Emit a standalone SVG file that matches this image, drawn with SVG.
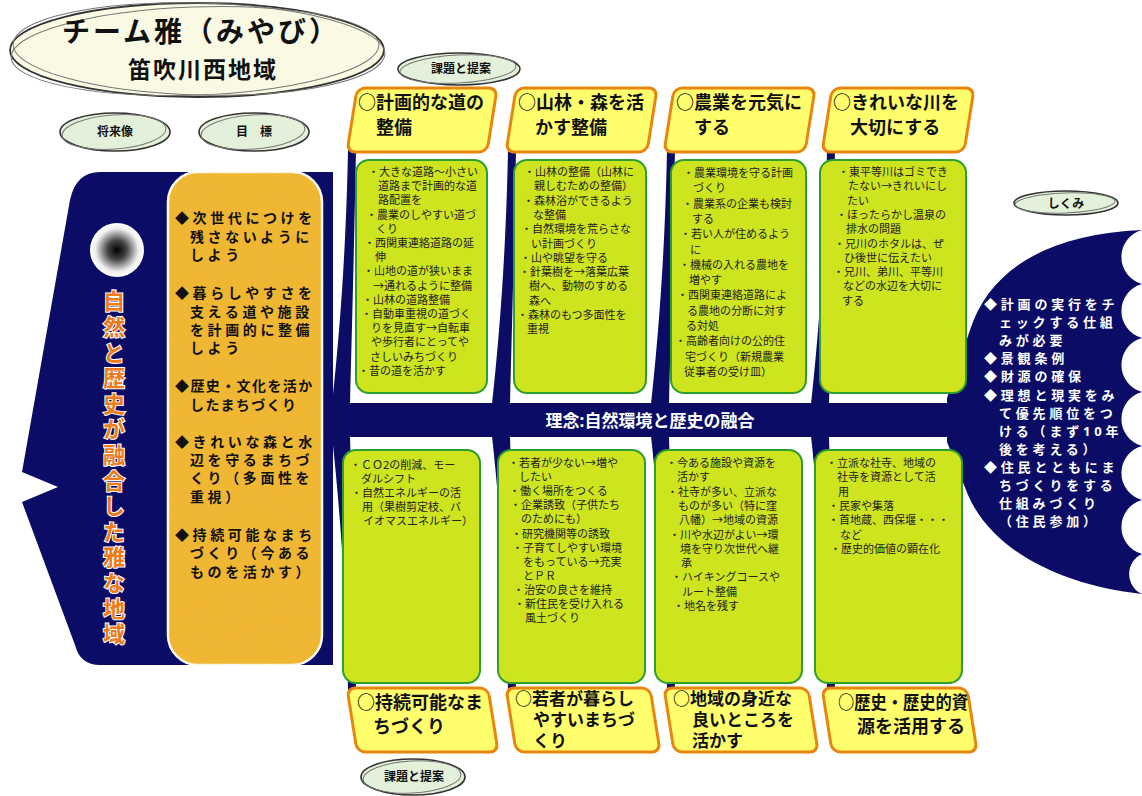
<svg xmlns="http://www.w3.org/2000/svg" width="1142" height="796" viewBox="0 0 1142 796">
<style>
.navy{fill:#0B0C66}
.hdr{fill:#FFFF6E;stroke:#E8850F;stroke-width:3}
.gbox{fill:#CDE41E;stroke:#2E9E2E;stroke-width:2}
.f{font-family:"Noto Sans","Noto Sans CJK JP",sans-serif}
.ht{font-size:18px;font-weight:700;fill:#111}
.ht3{font-size:17px;font-weight:700;fill:#111}
.gt{font-size:11px;fill:#222}
.lt{font-size:14px;font-weight:700;fill:#111;letter-spacing:3.6px}
.wt{font-size:13px;font-weight:700;fill:#fff;letter-spacing:3.8px}
.ell{fill:#E4F1DA;stroke:#333;stroke-width:1.6}
.ell2{fill:none;stroke:#777;stroke-width:1}
.et{font-size:12px;font-weight:700;fill:#111;text-anchor:middle}
</style>
<defs>
<radialGradient id="eye" cx="0.5" cy="0.5" r="0.5">
<stop offset="0" stop-color="#000"/>
<stop offset="0.35" stop-color="#444"/>
<stop offset="0.8" stop-color="#eee"/>
<stop offset="1" stop-color="#fff"/>
</radialGradient>
<filter id="grain" x="0" y="0" width="100%" height="100%">
<feTurbulence type="fractalNoise" baseFrequency="0.9" numOctaves="2" seed="3"/>
<feColorMatrix type="matrix" values="0 0 0 0 0.75  0 0 0 0 0.5  0 0 0 0 0.05  0 0 0 -1.4 1.0"/>
<feComposite in2="SourceGraphic" operator="in"/>
</filter>
</defs>
<rect width="1142" height="796" fill="#fff"/>

<!-- fish body -->
<g id="body">
<path class="navy" d="M100,172 L333,172 L333,665 L100,665 Q80,665 75,645 L22,502 L58,487 L22,472 L70,200 Q76,172 100,172 Z"/>
<rect class="navy" x="320" y="403" width="632" height="34"/>
<path class="navy" d="M1142,230 C1050,234 990,268 970,330 L947,398 L947,442 L968,495 C992,550 1060,585 1142,594 A22 22 0 0 1 1142,554 A28 28 0 0 1 1142,500 A28 28 0 0 1 1142,446 A28 28 0 0 1 1142,392 A28 28 0 0 1 1142,338 A28 28 0 0 1 1142,284 A28 28 0 0 1 1142,230 Z"/>
<circle cx="117" cy="250" r="27" fill="url(#eye)"/>
</g>

<g id="connectors">
<path class="navy" d="M348,150 L356,150 C354,250 352,330 350,404 L332,404 C340,330 346,250 348,150 Z"/>
<path class="navy" d="M508,150 L516,150 C514,250 512,330 510,404 L492,404 C500,330 506,250 508,150 Z"/>
<path class="navy" d="M667,150 L675,150 C673,250 671,330 669,404 L651,404 C659,330 665,250 667,150 Z"/>
<path class="navy" d="M827,150 L835,150 C833,250 831,330 829,404 L811,404 C819,330 825,250 827,150 Z"/>
<path class="navy" d="M332,436 L350,436 C352,510 354,590 356,690 L348,690 C346,590 340,510 332,436 Z"/>
<path class="navy" d="M492,436 L510,436 C512,510 514,590 516,690 L508,690 C506,590 500,510 492,436 Z"/>
<path class="navy" d="M651,436 L669,436 C671,510 673,590 675,690 L667,690 C665,590 659,510 651,436 Z"/>
<path class="navy" d="M811,436 L829,436 C831,510 833,590 835,690 L827,690 C825,590 819,510 811,436 Z"/>
</g>

<g id="spine-label">
<text class="f" x="650" y="427" font-size="17" font-weight="700" fill="#fff" text-anchor="middle">理念:自然環境と歴史の融合</text>
</g>

<!-- title -->
<g id="title">
<ellipse cx="197" cy="50" rx="187" ry="47" fill="#FAFAE4" stroke="#333" stroke-width="1.8"/>
<ellipse cx="195" cy="51" rx="184" ry="44" transform="rotate(-2 195 51)" class="ell2"/>
<ellipse cx="199" cy="49" rx="186" ry="46" transform="rotate(1.5 199 49)" class="ell2"/>
<text class="f" x="201" y="42" font-size="28" font-weight="700" fill="#111" text-anchor="middle" letter-spacing="3">チーム雅（みやび）</text>
<text class="f" x="203" y="78" font-size="23" font-weight="700" fill="#111" text-anchor="middle" letter-spacing="2">笛吹川西地域</text>
</g>

<g id="label-kadai-top">
<ellipse class="ell" cx="459" cy="69" rx="61" ry="16"/>
<ellipse class="ell2" cx="458" cy="69" rx="58" ry="14" transform="rotate(-3 458 69)"/>
<text class="f et" x="461" y="73">課題と提案</text>
</g>
<g id="label-shoraizo">
<ellipse class="ell" cx="115" cy="132" rx="55" ry="19"/>
<ellipse class="ell2" cx="114" cy="132" rx="52" ry="17" transform="rotate(-4 114 132)"/>
<text class="f et" x="115" y="136">将来像</text>
</g>
<g id="label-mokuhyo">
<ellipse class="ell" cx="254" cy="132" rx="55" ry="19"/>
<ellipse class="ell2" cx="253" cy="132" rx="52" ry="17" transform="rotate(-4 253 132)"/>
<text class="f et" x="254" y="136">目　標</text>
</g>
<g id="label-shikumi">
<ellipse class="ell" cx="1066" cy="203" rx="52" ry="12"/>
<ellipse class="ell2" cx="1065" cy="203" rx="50" ry="10" transform="rotate(-2 1065 203)"/>
<text class="f et" x="1066" y="208" font-size="13">しくみ</text>
</g>
<g id="label-kadai-bottom">
<ellipse class="ell" cx="413" cy="777" rx="52" ry="18"/>
<ellipse class="ell2" cx="412" cy="777" rx="49" ry="16" transform="rotate(-3 412 777)"/>
<text class="f et" x="414" y="781">課題と提案</text>
</g>

<!-- vision -->
<g id="vision">
<text class="f" x="113" y="290" style="writing-mode:vertical-rl" font-size="22" letter-spacing="3.6" font-weight="700" fill="#EE7A1A" stroke="#fff" stroke-width="2" paint-order="stroke">自然と歴史が融合した雅な地域</text>
</g>

<!-- goals -->
<g id="goals">
<rect x="168" y="172" width="154" height="493" rx="30" fill="#F2B631" stroke="#fff" stroke-width="2.5"/>
<rect x="168" y="172" width="154" height="493" rx="30" fill="#F2B631" filter="url(#grain)" opacity="0.5"/>
<text class="f lt">
<tspan x="175" y="223">◆次世代につけを</tspan>
<tspan x="190" y="242">残さないように</tspan>
<tspan x="190" y="260">しよう</tspan>
<tspan x="175" y="298">◆暮らしやすさを</tspan>
<tspan x="190" y="317">支える道や施設</tspan>
<tspan x="190" y="335">を計画的に整備</tspan>
<tspan x="190" y="353">しよう</tspan>
<tspan x="175" y="391" letter-spacing="1.4">◆歴史・文化を活か</tspan>
<tspan x="190" y="410" letter-spacing="1.4">したまちづくり</tspan>
<tspan x="175" y="447">◆きれいな森と水</tspan>
<tspan x="190" y="465">辺を守るまちづ</tspan>
<tspan x="190" y="483">くり（多面性を</tspan>
<tspan x="190" y="502">重視）</tspan>
<tspan x="175" y="540">◆持続可能なまち</tspan>
<tspan x="190" y="558">づくり（今ある</tspan>
<tspan x="190" y="577">ものを活かす）</tspan>
</text>
</g>

<!-- top headers -->
<g id="h1"><rect class="hdr" x="0" y="-64" width="140" height="64" rx="8" transform="translate(347,152) skewX(-9)"/>
<text class="f ht"><tspan x="358" y="109">○計画的な道の</tspan><tspan x="376" y="134">整備</tspan></text></g>
<g id="h2"><rect class="hdr" x="0" y="-64" width="141" height="64" rx="8" transform="translate(506,152) skewX(-9)"/>
<text class="f ht"><tspan x="518" y="109">○山林・森を活</tspan><tspan x="535" y="134">かす整備</tspan></text></g>
<g id="h3"><rect class="hdr" x="0" y="-64" width="141" height="64" rx="8" transform="translate(664,152) skewX(-9)"/>
<text class="f ht"><tspan x="676" y="109">○農業を元気に</tspan><tspan x="694" y="134">する</tspan></text></g>
<g id="h4"><rect class="hdr" x="0" y="-64" width="142" height="64" rx="8" transform="translate(822,152) skewX(-9)"/>
<text class="f ht"><tspan x="833" y="109">○きれいな川を</tspan><tspan x="850" y="134">大切にする</tspan></text></g>

<!-- bottom headers -->
<g id="b1"><rect class="hdr" x="0" y="0" width="141" height="64" rx="8" transform="translate(347,688) skewX(9)"/>
<text class="f ht"><tspan x="357" y="709">○持続可能なま</tspan><tspan x="373" y="733">ちづくり</tspan></text></g>
<g id="b2"><rect class="hdr" x="0" y="0" width="144" height="64" rx="8" transform="translate(506,688) skewX(9)"/>
<text class="f ht3"><tspan x="515" y="705">○若者が暮らし</tspan><tspan x="533" y="726">やすいまちづ</tspan><tspan x="533" y="747">くり</tspan></text></g>
<g id="b3"><rect class="hdr" x="0" y="0" width="144" height="64" rx="8" transform="translate(664,688) skewX(9)"/>
<text class="f ht3"><tspan x="673" y="705">○地域の身近な</tspan><tspan x="692" y="726">良いところを</tspan><tspan x="692" y="747">活かす</tspan></text></g>
<g id="b4"><rect class="hdr" x="0" y="0" width="145" height="64" rx="8" transform="translate(822,688) skewX(9)"/>
<text class="f ht"><tspan x="838" y="709" textLength="130" lengthAdjust="spacingAndGlyphs">○歴史・歴史的資</tspan><tspan x="857" y="733">源を活用する</tspan></text></g>

<!-- top green boxes -->
<g id="g1"><rect class="gbox" x="356" y="160" width="131" height="233" rx="13"/>
<text class="f gt">
<tspan x="368" y="176">・大きな道路〜小さい</tspan>
<tspan x="378" y="190.2">道路まで計画的な道</tspan>
<tspan x="378" y="204.4">路配置を</tspan>
<tspan x="366" y="218.6">・農業のしやすい道づ</tspan>
<tspan x="376" y="232.8">くり</tspan>
<tspan x="364" y="247">・西関東連絡道路の延</tspan>
<tspan x="375" y="261.2">伸</tspan>
<tspan x="363" y="275.4">・山地の道が狭いまま</tspan>
<tspan x="373" y="289.6">→通れるように整備</tspan>
<tspan x="362" y="303.8">・山林の道路整備</tspan>
<tspan x="361" y="318">・自動車重視の道づく</tspan>
<tspan x="371" y="332.2">りを見直す→自転車</tspan>
<tspan x="371" y="346.4">や歩行者にとってや</tspan>
<tspan x="370" y="360.6">さしいみちづくり</tspan>
<tspan x="358" y="374.8">・昔の道を活かす</tspan>
</text></g>
<g id="g2"><rect class="gbox" x="514" y="160" width="132" height="233" rx="13"/>
<text class="f gt">
<tspan x="524" y="176">・山林の整備（山林に</tspan>
<tspan x="534" y="190.3">親しむための整備）</tspan>
<tspan x="523" y="204.6">・森林浴ができるよう</tspan>
<tspan x="533" y="218.9">な整備</tspan>
<tspan x="521" y="233.2">・自然環境を荒らさな</tspan>
<tspan x="531" y="247.5">い計画づくり</tspan>
<tspan x="520" y="261.8">・山や眺望を守る</tspan>
<tspan x="519" y="276.1">・針葉樹を→落葉広葉</tspan>
<tspan x="529" y="290.4">樹へ、動物のすめる</tspan>
<tspan x="529" y="304.7">森へ</tspan>
<tspan x="517" y="319">・森林のもつ多面性を</tspan>
<tspan x="527" y="333.3">重視</tspan>
</text></g>
<g id="g3"><rect class="gbox" x="671" y="160" width="135" height="233" rx="13"/>
<text class="f gt">
<tspan x="683" y="177">・農業環境を守る計画</tspan>
<tspan x="693" y="192.3">づくり</tspan>
<tspan x="682" y="207.6">・農業系の企業も検討</tspan>
<tspan x="692" y="222.9">する</tspan>
<tspan x="680" y="238.2">・若い人が住めるよう</tspan>
<tspan x="690" y="253.5">に</tspan>
<tspan x="679" y="268.8">・機械の入れる農地を</tspan>
<tspan x="689" y="284.1">増やす</tspan>
<tspan x="677" y="299.4">・西関東連絡道路によ</tspan>
<tspan x="687" y="314.7">る農地の分断に対す</tspan>
<tspan x="686" y="330">る対処</tspan>
<tspan x="675" y="345.3">・高齢者向けの公的住</tspan>
<tspan x="685" y="360.6">宅づくり（新規農業</tspan>
<tspan x="684" y="375.9">従事者の受け皿）</tspan>
</text></g>
<g id="g4"><rect class="gbox" x="820" y="160" width="146" height="233" rx="13"/>
<text class="f gt">
<tspan x="838" y="176">・東平等川はゴミでき</tspan>
<tspan x="848" y="190.3">たない→きれいにし</tspan>
<tspan x="847" y="204.6">たい</tspan>
<tspan x="836" y="218.9">・ほったらかし温泉の</tspan>
<tspan x="846" y="233.2">排水の問題</tspan>
<tspan x="834" y="247.5">・兄川のホタルは、ぜ</tspan>
<tspan x="844" y="261.8">ひ後世に伝えたい</tspan>
<tspan x="833" y="276.1">・兄川、弟川、平等川</tspan>
<tspan x="843" y="290.4">などの水辺を大切に</tspan>
<tspan x="842" y="304.7">する</tspan>
</text></g>

<!-- bottom green boxes -->
<g id="g5"><rect class="gbox" x="343" y="450" width="137" height="233" rx="13"/>
<text class="f gt">
<tspan x="350" y="469">・ＣＯ2の削減、モー</tspan>
<tspan x="361" y="483">ダルシフト</tspan>
<tspan x="351" y="497">・自然エネルギーの活</tspan>
<tspan x="362" y="511">用（果樹剪定枝、バ</tspan>
<tspan x="363" y="525">イオマスエネルギー）</tspan>
</text></g>
<g id="g6"><rect class="gbox" x="498" y="450" width="147" height="233" rx="13"/>
<text class="f gt">
<tspan x="508" y="467">・若者が少ない→増や</tspan>
<tspan x="519" y="481.1">したい</tspan>
<tspan x="509" y="495.2">・働く場所をつくる</tspan>
<tspan x="510" y="509.3">・企業誘致（子供たち</tspan>
<tspan x="521" y="523.4">のためにも）</tspan>
<tspan x="511" y="537.5">・研究機関等の誘致</tspan>
<tspan x="512" y="551.6">・子育てしやすい環境</tspan>
<tspan x="523" y="565.7">をもっている→充実</tspan>
<tspan x="523" y="579.8">とＰＲ</tspan>
<tspan x="513" y="593.9">・治安の良さを維持</tspan>
<tspan x="514" y="608">・新住民を受け入れる</tspan>
<tspan x="525" y="622.1">風土づくり</tspan>
</text></g>
<g id="g7"><rect class="gbox" x="655" y="450" width="147" height="233" rx="13"/>
<text class="f gt">
<tspan x="666" y="467">・今ある施設や資源を</tspan>
<tspan x="677" y="481.3">活かす</tspan>
<tspan x="667" y="495.6">・社寺が多い、立派な</tspan>
<tspan x="678" y="509.9">ものが多い（特に窪</tspan>
<tspan x="679" y="524.2">八幡）→地域の資源</tspan>
<tspan x="669" y="538.5">・川や水辺がよい→環</tspan>
<tspan x="680" y="552.8">境を守り次世代へ継</tspan>
<tspan x="681" y="567.1">承</tspan>
<tspan x="671" y="581.4">・ハイキングコースや</tspan>
<tspan x="682" y="595.7">ルート整備</tspan>
<tspan x="673" y="610">・地名を残す</tspan>
</text></g>
<g id="g8"><rect class="gbox" x="815" y="450" width="147" height="233" rx="13"/>
<text class="f gt">
<tspan x="826" y="467">・立派な社寺、地域の</tspan>
<tspan x="837" y="481.3">社寺を資源として活</tspan>
<tspan x="838" y="495.6">用</tspan>
<tspan x="828" y="509.9">・民家や集落</tspan>
<tspan x="828" y="524.2">・首地蔵、西保堰・・・</tspan>
<tspan x="840" y="538.5">など</tspan>
<tspan x="830" y="552.8">・歴史的価値の顕在化</tspan>
</text></g>

<!-- system -->
<g id="system">
<text class="f wt">
<tspan x="984" y="309">◆計画の実行をチ</tspan>
<tspan x="999" y="327.1">ェックする仕組</tspan>
<tspan x="999" y="345.2">みが必要</tspan>
<tspan x="984" y="363.3">◆景観条例</tspan>
<tspan x="984" y="381.4">◆財源の確保</tspan>
<tspan x="984" y="399.5">◆理想と現実をみ</tspan>
<tspan x="999" y="417.6">て優先順位をつ</tspan>
<tspan x="999" y="435.7">ける（まず10年</tspan>
<tspan x="999" y="453.8">後を考える）</tspan>
<tspan x="984" y="471.9">◆住民とともにま</tspan>
<tspan x="999" y="490">ちづくりをする</tspan>
<tspan x="999" y="508.1">仕組みづくり</tspan>
<tspan x="999" y="526.2">（住民参加）</tspan>
</text>
</g>
</svg>
